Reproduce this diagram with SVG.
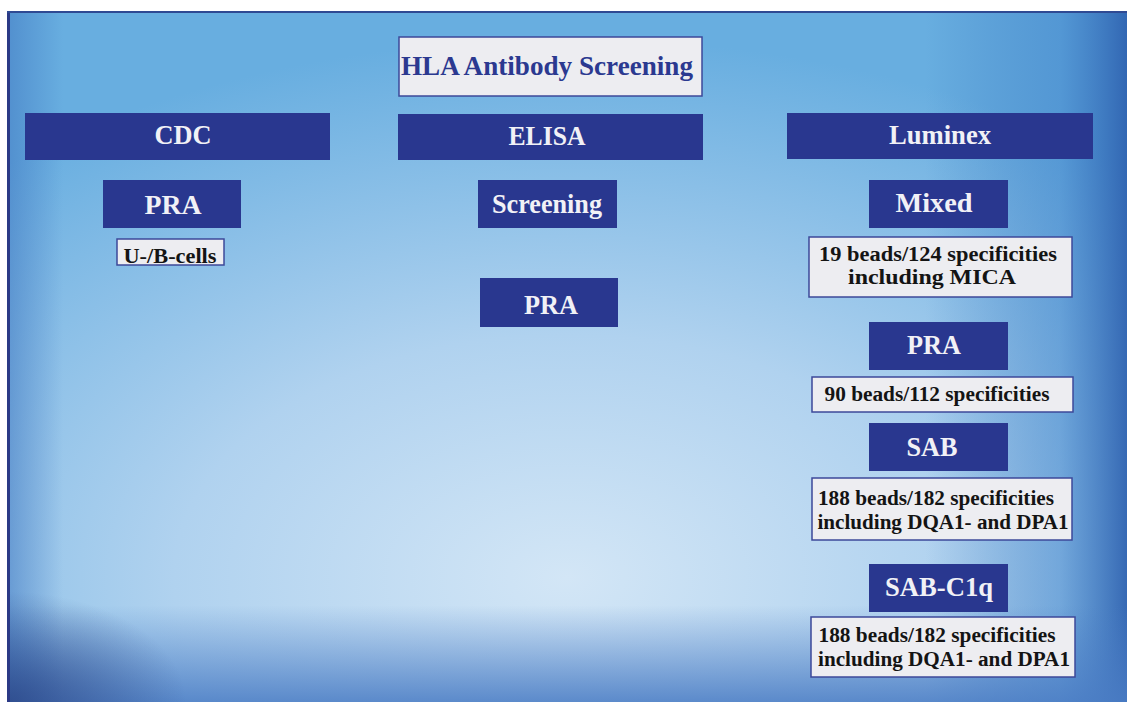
<svg xmlns="http://www.w3.org/2000/svg" width="1127" height="702" viewBox="0 0 1127 702">
  <defs>
    <radialGradient id="bgBase" cx="0.5" cy="0.82" r="0.78" fx="0.5" fy="0.82">
      <stop offset="0" stop-color="#d3e6f6"/>
      <stop offset="0.45" stop-color="#b0d2ef"/>
      <stop offset="1" stop-color="#68aee0"/>
    </radialGradient>
    <linearGradient id="shadeRight" x1="0" y1="0" x2="1" y2="0">
      <stop offset="0.82" stop-color="#2f6cb8" stop-opacity="0"/>
      <stop offset="0.94" stop-color="#3a7cc6" stop-opacity="0.45"/>
      <stop offset="1" stop-color="#2c5fae" stop-opacity="0.9"/>
    </linearGradient>
    <linearGradient id="shadeBottom" x1="0" y1="0" x2="0" y2="1">
      <stop offset="0.86" stop-color="#4a7cc4" stop-opacity="0"/>
      <stop offset="1" stop-color="#4a7cc4" stop-opacity="0.85"/>
    </linearGradient>
    <linearGradient id="shadeLeft" x1="0" y1="0" x2="1" y2="0">
      <stop offset="0" stop-color="#3f76c0" stop-opacity="0.55"/>
      <stop offset="0.05" stop-color="#3f76c0" stop-opacity="0"/>
    </linearGradient>
    <radialGradient id="cornerBL" cx="0" cy="1" r="0.16">
      <stop offset="0" stop-color="#2a4383" stop-opacity="0.8"/>
      <stop offset="1" stop-color="#2a4383" stop-opacity="0"/>
    </radialGradient>
    <style>
      .hdr { fill: #29378f; }
      .lbl { fill: #ededf1; stroke: #3d4899; stroke-width: 1.5; }
      .tw { font-family: "Liberation Serif", "Times New Roman", serif; font-weight: bold; fill: #f1f1f6; text-anchor: middle; font-size: 27px; }
      .tb { font-family: "Liberation Serif", "Times New Roman", serif; font-weight: bold; fill: #141414; text-anchor: middle; font-size: 20px; }
      .tt { font-family: "Liberation Serif", "Times New Roman", serif; font-weight: bold; fill: #2b3990; text-anchor: middle; font-size: 28px; }
    </style>
  </defs>

  <!-- page and framed backdrop -->
  <rect x="0" y="0" width="1127" height="702" fill="#ffffff"/>
  <g id="backdrop">
    <rect x="7" y="11" width="1120" height="691" fill="url(#bgBase)"/>
    <rect x="7" y="11" width="1120" height="691" fill="url(#shadeRight)"/>
    <rect x="7" y="11" width="1120" height="691" fill="url(#shadeBottom)"/>
    <rect x="7" y="11" width="1120" height="691" fill="url(#shadeLeft)"/>
    <rect x="7" y="11" width="1120" height="691" fill="url(#cornerBL)"/>
    <line x1="8.5" y1="11" x2="8.5" y2="702" stroke="#2b3a86" stroke-width="3"/>
    <line x1="7" y1="12" x2="1127" y2="12" stroke="#2f4a93" stroke-width="2"/>
  </g>

  <!-- title -->
  <g id="title">
    <rect class="lbl" x="399" y="37" width="303" height="59"/>
    <text class="tt" x="547" y="75" textLength="292" lengthAdjust="spacingAndGlyphs">HLA Antibody Screening</text>
  </g>

  <!-- CDC column -->
  <g id="cdc">
    <rect class="hdr" x="25" y="113" width="305" height="47"/>
    <text class="tw" x="183" y="144" textLength="57" lengthAdjust="spacingAndGlyphs">CDC</text>
  </g>
  <g id="cdc-pra">
    <rect class="hdr" x="103" y="180" width="138" height="48"/>
    <text class="tw" x="173" y="214" textLength="57" lengthAdjust="spacingAndGlyphs">PRA</text>
  </g>
  <g id="cdc-cells">
    <rect class="lbl" x="117" y="239" width="107" height="26"/>
    <text class="tb" x="170" y="263" textLength="93" lengthAdjust="spacingAndGlyphs">U-/B-cells</text>
  </g>

  <!-- ELISA column -->
  <g id="elisa">
    <rect class="hdr" x="398" y="114" width="305" height="46"/>
    <text class="tw" x="547" y="145" textLength="77" lengthAdjust="spacingAndGlyphs">ELISA</text>
  </g>
  <g id="elisa-screening">
    <rect class="hdr" x="478" y="180" width="139" height="48"/>
    <text class="tw" x="547" y="213" textLength="110" lengthAdjust="spacingAndGlyphs">Screening</text>
  </g>
  <g id="elisa-pra">
    <rect class="hdr" x="480" y="278" width="138" height="49"/>
    <text class="tw" x="551" y="314" textLength="54" lengthAdjust="spacingAndGlyphs">PRA</text>
  </g>

  <!-- Luminex column -->
  <g id="luminex">
    <rect class="hdr" x="787" y="113" width="306" height="46"/>
    <text class="tw" x="940" y="144" textLength="102" lengthAdjust="spacingAndGlyphs">Luminex</text>
  </g>
  <g id="lum-mixed">
    <rect class="hdr" x="869" y="180" width="139" height="48"/>
    <text class="tw" x="934" y="212" textLength="77" lengthAdjust="spacingAndGlyphs">Mixed</text>
  </g>
  <g id="lum-mixed-info">
    <rect class="lbl" x="809" y="237" width="263" height="60"/>
    <text class="tb" x="938" y="261" textLength="238" lengthAdjust="spacingAndGlyphs">19 beads/124 specificities</text>
    <text class="tb" x="932" y="284" textLength="168" lengthAdjust="spacingAndGlyphs">including MICA</text>
  </g>
  <g id="lum-pra">
    <rect class="hdr" x="869" y="322" width="139" height="48"/>
    <text class="tw" x="934" y="354" textLength="54" lengthAdjust="spacingAndGlyphs">PRA</text>
  </g>
  <g id="lum-pra-info">
    <rect class="lbl" x="812" y="377" width="261" height="35"/>
    <text class="tb" x="937" y="401" textLength="225" lengthAdjust="spacingAndGlyphs">90 beads/112 specificities</text>
  </g>
  <g id="lum-sab">
    <rect class="hdr" x="869" y="423" width="139" height="48"/>
    <text class="tw" x="932" y="456" textLength="51" lengthAdjust="spacingAndGlyphs">SAB</text>
  </g>
  <g id="lum-sab-info">
    <rect class="lbl" x="812" y="478" width="260" height="62"/>
    <text class="tb" x="936" y="505" textLength="236" lengthAdjust="spacingAndGlyphs">188 beads/182 specificities</text>
    <text class="tb" x="943" y="529" textLength="251" lengthAdjust="spacingAndGlyphs">including DQA1- and DPA1</text>
  </g>
  <g id="lum-sab-c1q">
    <rect class="hdr" x="869" y="564" width="139" height="48"/>
    <text class="tw" x="939" y="596" textLength="108" lengthAdjust="spacingAndGlyphs">SAB-C1q</text>
  </g>
  <g id="lum-sab-c1q-info">
    <rect class="lbl" x="811" y="617" width="264" height="60"/>
    <text class="tb" x="937" y="642" textLength="237" lengthAdjust="spacingAndGlyphs">188 beads/182 specificities</text>
    <text class="tb" x="944" y="666" textLength="252" lengthAdjust="spacingAndGlyphs">including DQA1- and DPA1</text>
  </g>

  <!-- no connectors are drawn between the boxes -->
  <g id="connectors"/>
</svg>
